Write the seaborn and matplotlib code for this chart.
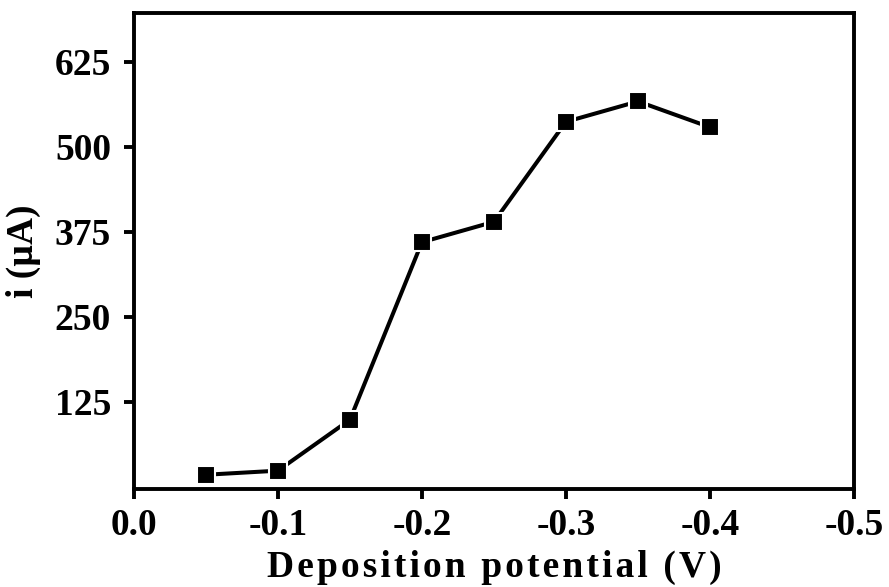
import numpy as np
import pandas as pd
import matplotlib
matplotlib.use("Agg")
import matplotlib.pyplot as plt
import seaborn as sns

# Werte
potential = [0.05, 0.10, 0.15, 0.20, 0.25, 0.30, 0.35, 0.40]   # Betrag der Abscheidespannung
current = [18, 24, 99, 360, 390, 537, 567, 529]                 # i in µA
x_ticks = [0.0, 0.1, 0.2, 0.3, 0.4, 0.5]
x_ticklabels = ["0.0", "-0.1", "-0.2", "-0.3", "-0.4", "-0.5"]
y_ticks = [125, 250, 375, 500, 625]
x_title = "Deposition potential (V)"
y_title = "i (µA)"

df = pd.DataFrame({"potential": potential, "current": current})

sns.set_style("ticks")
plt.rcParams["font.family"] = ["Liberation Serif", "DejaVu Serif"]
plt.rcParams["font.weight"] = "bold"
plt.rcParams["text.color"] = "black"
plt.rcParams["axes.labelcolor"] = "black"
plt.rcParams["xtick.color"] = "black"
plt.rcParams["ytick.color"] = "black"

fig = plt.figure(figsize=(8.89, 5.87), dpi=100)
ax = fig.add_axes([0.1507, 0.1669, 0.8099, 0.8110])

sns.lineplot(ax=ax, data=df, x="potential", y="current", color="black",
             linewidth=2.9, marker="s", markersize=13, markerfacecolor="black",
             markeredgecolor="white", markeredgewidth=1.5)

ax.set_xlim(0, 0.5)
ax.set_ylim(-3, 697)
ax.set_xticks(x_ticks)
ax.set_xticklabels(x_ticklabels)
ax.set_yticks(y_ticks)

for s in ax.spines.values():
    s.set_linewidth(2.8)
    s.set_color("black")
    s.set_visible(True)

ax.tick_params(axis="both", direction="out", length=7.5, width=2.8,
               labelsize=27, colors="black")
ax.tick_params(axis="x", pad=6)
ax.tick_params(axis="y", pad=9)
for lab in ax.get_xticklabels() + ax.get_yticklabels():
    lab.set_fontweight("bold")

# etwas Sperrung wie im Original (hair space zwischen den Buchstaben)
spaced = "\u200a".join(x_title)
ax.set_xlabel(spaced, fontsize=27, fontweight="bold", labelpad=5, color="black")
ax.set_ylabel(y_title, fontsize=27, fontweight="bold", labelpad=10, color="black")

fig.savefig("out.png", dpi=100, facecolor="white")
